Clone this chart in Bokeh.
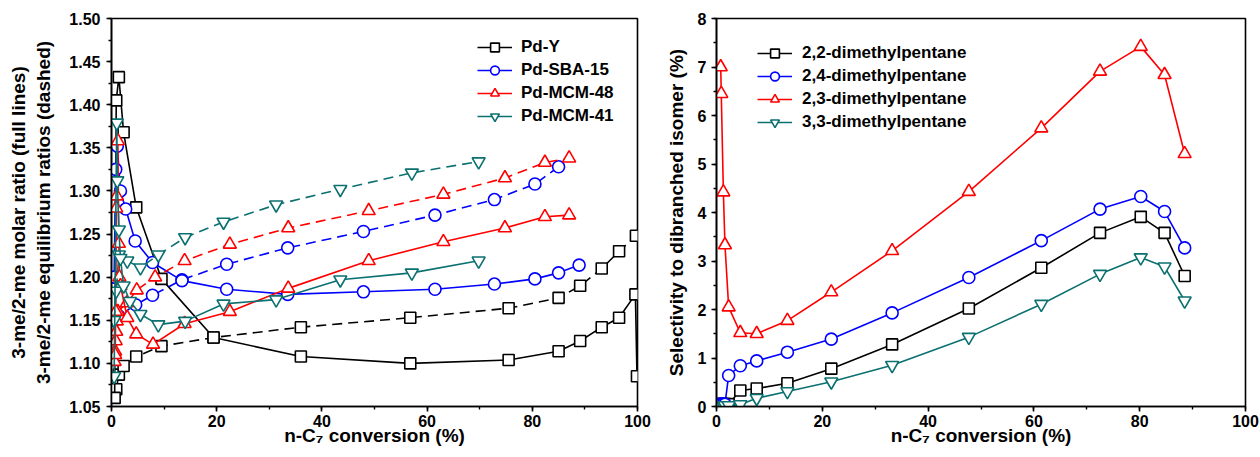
from bokeh.plotting import figure
from bokeh.layouts import row
from bokeh.models import (SingleIntervalTicker, LinearAxis, FixedTicker, Legend,
                          LegendItem, NumeralTickFormatter)
from bokeh.embed import file_html
from bokeh.resources import INLINE

FONT = "Liberation Sans"

# ---------------- Left panel data: 3-me/2-me ratios ----------------
pdy_x_full = [0.6, 0.9, 1.4, 2.3, 4.7, 9.5, 19.4, 36.0, 56.8, 75.5, 85.0, 89.1, 93.2, 96.5, 99.6, 99.9]
pdy_y_full = [1.06, 1.405, 1.432, 1.368, 1.281, 1.198, 1.130, 1.108, 1.100, 1.104, 1.114, 1.126, 1.142, 1.153, 1.180, 1.085]
pdy_x_eq = [0.9, 1.4, 2.3, 4.7, 9.5, 19.4, 36.0, 56.8, 75.5, 85.0, 89.1, 93.2, 96.5, 99.7]
pdy_y_eq = [1.070, 1.087, 1.097, 1.108, 1.120, 1.130, 1.142, 1.153, 1.164, 1.176, 1.190, 1.210, 1.230, 1.248]

sba_x_full = [0.5, 0.8, 1.1, 1.7, 2.7, 4.5, 7.8, 13.4, 21.9, 33.5, 47.9, 61.5, 72.8, 80.5, 85.0, 88.9]
sba_y_full = [1.200, 1.325, 1.352, 1.300, 1.279, 1.242, 1.217, 1.196, 1.186, 1.180, 1.183, 1.186, 1.192, 1.198, 1.205, 1.214]
sba_x_eq = [0.6, 1.4, 4.6, 7.8, 13.4, 21.9, 33.5, 47.9, 61.5, 72.8, 80.5, 85.0]
sba_y_eq = [1.150, 1.155, 1.168, 1.179, 1.197, 1.215, 1.234, 1.253, 1.272, 1.290, 1.308, 1.328]

m48_x_full = [0.7, 0.8, 0.9, 1.0, 1.2, 1.4, 1.5, 1.7, 3.0, 4.7, 7.9, 13.9, 22.5, 33.6, 48.9, 63.1, 74.8, 82.4, 87.0]
m48_y_full = [1.110, 1.160, 1.280, 1.294, 1.358, 1.239, 1.200, 1.190, 1.153, 1.134, 1.122, 1.146, 1.160, 1.187, 1.219, 1.241, 1.257, 1.270, 1.272]
m48_x_eq = [0.6, 0.7, 0.8, 0.9, 1.0, 1.2, 2.9, 4.8, 8.3, 13.9, 22.5, 33.6, 48.9, 63.1, 74.8, 82.4, 87.0]
m48_y_eq = [1.102, 1.114, 1.126, 1.137, 1.149, 1.160, 1.170, 1.185, 1.200, 1.219, 1.238, 1.257, 1.277, 1.296, 1.315, 1.333, 1.338]

m41_x_full = [0.5, 1.0, 1.1, 1.4, 1.7, 2.3, 3.5, 5.5, 8.9, 14.0, 21.3, 31.3, 43.5, 57.1, 69.8]
m41_y_full = [1.085, 1.379, 1.312, 1.255, 1.222, 1.190, 1.172, 1.157, 1.145, 1.149, 1.169, 1.174, 1.197, 1.205, 1.219]
m41_x_eq = [0.5, 0.9, 1.4, 3.0, 5.5, 8.9, 14.0, 21.3, 31.3, 43.5, 57.1, 69.8]
m41_y_eq = [1.150, 1.184, 1.226, 1.219, 1.211, 1.226, 1.246, 1.264, 1.284, 1.302, 1.321, 1.334]

# ---------------- Right panel data: selectivity ----------------
dmp_x = [0.8, 0.9, 1.3, 1.6, 2.3, 4.5, 7.6, 13.4, 21.7, 33.2, 47.7, 61.4, 72.5, 80.2, 84.7, 88.5]
dmp22 = [0.05, 0.05, 0.05, 0.05, 0.05, 0.33, 0.37, 0.48, 0.78, 1.28, 2.02, 2.86, 3.58, 3.91, 3.58, 2.69]
dmp24 = [0.05, 0.05, 0.05, 0.05, 0.64, 0.84, 0.94, 1.12, 1.39, 1.93, 2.66, 3.42, 4.07, 4.33, 4.02, 3.27]
dmp23 = [7.00, 6.45, 4.42, 3.33, 2.05, 1.52, 1.50, 1.77, 2.36, 3.21, 4.43, 5.74, 6.91, 7.42, 6.84, 5.21]
dmp33 = [0.02, 0.02, 0.02, 0.02, 0.02, 0.04, 0.17, 0.31, 0.51, 0.85, 1.43, 2.11, 2.73, 3.07, 2.88, 2.18]

left_labels = ["Pd-Y", "Pd-SBA-15", "Pd-MCM-48", "Pd-MCM-41"]
right_labels = ["2,2-dimethylpentane", "2,4-dimethylpentane", "2,3-dimethylpentane", "3,3-dimethylpentane"]

BLACK, BLUE, RED, TEAL = "#000000", "#0000FF", "#FF0000", "#0B7070"
MARKERS = ["square", "circle", "triangle", "inverted_triangle"]
MSIZE = {"square": 11, "circle": 12, "triangle": 13, "inverted_triangle": 13}
DASH = "10 6"


def style(p):
    p.outline_line_color = "black"
    p.outline_line_width = 1.6
    p.xgrid.visible = False
    p.ygrid.visible = False
    for ax in p.axis:
        ax.axis_line_width = 1.6
        ax.major_tick_line_width = 1.6
        ax.minor_tick_line_width = 1.4
        ax.major_tick_in = 0
        ax.major_tick_out = 5
        ax.minor_tick_in = 0
        ax.minor_tick_out = 3
        ax.major_label_text_font = FONT
        ax.major_label_text_font_style = "bold"
        ax.major_label_text_font_size = "16px"
        ax.major_label_text_color = "black"
        ax.axis_label_text_font = FONT
        ax.axis_label_text_font_style = "bold"
        ax.axis_label_text_font_size = "19px"
        ax.axis_label_text_color = "black"


def series(p, xs, ys, color, marker, dashed=False):
    ln = p.line(xs, ys, line_color=color, line_width=1.6,
                line_dash=DASH if dashed else "solid")
    sc = p.scatter(xs, ys, marker=marker, size=MSIZE[marker], fill_color="white",
                   line_color=color, line_width=1.6)
    return ln, sc


def make_legend(items, loc, standoff):
    return Legend(items=items, location=loc, padding=0, margin=0, spacing=1,
                  glyph_width=35, glyph_height=22, label_height=22, label_standoff=standoff,
                  border_line_color=None, background_fill_alpha=0,
                  label_text_font=FONT, label_text_font_style="bold",
                  label_text_font_size="17px", label_text_color="black")


# ---------------- Left figure ----------------
p1 = figure(width=655, height=457, x_range=(0, 100), y_range=(1.05, 1.50),
            output_backend="svg", toolbar_location=None,
            min_border_left=111, min_border_right=18, min_border_top=18, min_border_bottom=51)
style(p1)
p1.xaxis.ticker = SingleIntervalTicker(interval=20, num_minor_ticks=2)
p1.yaxis.ticker = SingleIntervalTicker(interval=0.05, num_minor_ticks=2)
p1.yaxis.formatter = NumeralTickFormatter(format="0.00")
p1.xaxis.axis_label = "n-C\u2087 conversion (%)"
p1.xaxis.major_label_standoff = 3
p1.xaxis.axis_label_standoff = -5
p1.yaxis.axis_label = "3-me/2-me equilibrium ratios (dashed)"
p1.yaxis.major_label_standoff = 6
p1.yaxis.axis_label_standoff = 12

ax2 = LinearAxis(ticker=FixedTicker(ticks=[]), axis_line_color=None,
                 major_tick_line_color=None, minor_tick_line_color=None,
                 major_tick_out=0, minor_tick_out=0, major_label_standoff=0,
                 axis_label="3-me/2-me molar ratio (full lines)", axis_label_standoff=2,
                 axis_label_text_font=FONT, axis_label_text_font_style="bold",
                 axis_label_text_font_size="19px", axis_label_text_color="black")
p1.add_layout(ax2, "left")

left_data = [
    (pdy_x_full, pdy_y_full, pdy_x_eq, pdy_y_eq, BLACK),
    (sba_x_full, sba_y_full, sba_x_eq, sba_y_eq, BLUE),
    (m48_x_full, m48_y_full, m48_x_eq, m48_y_eq, RED),
    (m41_x_full, m41_y_full, m41_x_eq, m41_y_eq, TEAL),
]
items1 = []
for (xf, yf, xe, ye, c), m, lab in zip(left_data, MARKERS, left_labels):
    series(p1, xe, ye, c, m, dashed=True)
    ln, sc = series(p1, xf, yf, c, m)
    items1.append(LegendItem(label=lab, renderers=[ln, sc]))

p1.add_layout(make_legend(items1, (366, 279), 9))

# ---------------- Right figure ----------------
p2 = figure(width=605, height=457, x_range=(0, 100), y_range=(0, 8),
            output_backend="svg", toolbar_location=None,
            min_border_left=61, min_border_right=15, min_border_top=18, min_border_bottom=51)
style(p2)
p2.xaxis.ticker = SingleIntervalTicker(interval=20, num_minor_ticks=2)
p2.yaxis.ticker = SingleIntervalTicker(interval=1, num_minor_ticks=2)
p2.xaxis.axis_label = "n-C\u2087 conversion (%)"
p2.xaxis.major_label_standoff = 3
p2.xaxis.axis_label_standoff = -5
p2.yaxis.axis_label = "Selectivity to dibranched isomer (%)"
p2.yaxis.major_label_standoff = 5
p2.yaxis.axis_label_standoff = 8

items2 = []
for ys, c, m, lab in zip([dmp22, dmp24, dmp23, dmp33], [BLACK, BLUE, RED, TEAL], MARKERS, right_labels):
    ln, sc = series(p2, dmp_x, ys, c, m)
    items2.append(LegendItem(label=lab, renderers=[ln, sc]))

p2.add_layout(make_legend(items2, (41, 273), 10))

layout = row(p1, p2)
open("out.html", "w").write(file_html(layout, INLINE))
